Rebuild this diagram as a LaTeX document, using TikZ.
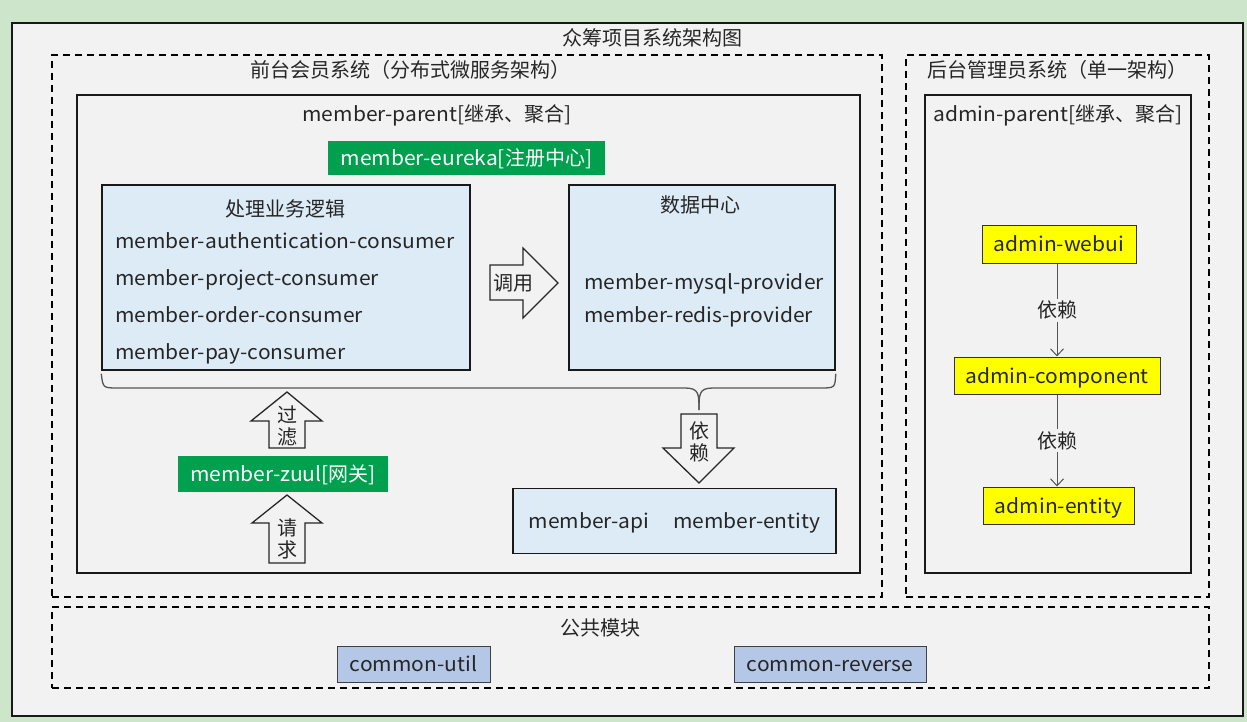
\documentclass[tikz,border=0pt]{standalone}
\usepackage{fontspec}
\setmainfont{Noto Sans CJK SC}
% slightly wider setting for the Latin module names
\newfontfamily\latinfont{Noto Sans CJK SC}[FakeStretch=1.05]
\newcommand\lat[1]{{\latinfont #1}}
\usetikzlibrary{arrows.meta}

\definecolor{bggreen}{HTML}{CDE6CB}
\definecolor{panel}{HTML}{F2F2F2}
\definecolor{lightblue}{HTML}{DDEBF7}
\definecolor{modgreen}{HTML}{00A04F}
\definecolor{modyellow}{HTML}{FFFF00}
\definecolor{commonblue}{HTML}{B4C7E7}
\definecolor{linkgray}{HTML}{555555}

\tikzset{
  txt/.style={font=\fontsize{20}{24}\selectfont, inner sep=0pt, text=black!85,
    text height=15pt, text depth=0pt},
  frame/.style={draw=black!90, line width=2pt, fill=panel},
  dashbox/.style={draw=black, line width=1.8pt, dash pattern=on 7pt off 5pt},
  solidbox/.style={draw=black!90, line width=1.8pt},
  bluebox/.style={draw=black!90, line width=1.5pt, fill=lightblue},
  greentag/.style={fill=modgreen, txt, text=white},
  yellowtag/.style={draw=black!80, line width=1pt, fill=modyellow, txt},
  commontag/.style={draw=black!75, line width=1pt, fill=commonblue, txt},
  blockarrow/.style={draw=black!85, line width=1.3pt, fill=panel, line join=miter},
  vtext/.style={font=\fontsize{20}{22}\selectfont, inner sep=0pt, text=black!85, align=center},
  dep/.style={draw=linkgray, line width=1pt, -{Straight Barb[length=7pt,width=13pt]}},
  deplabel/.style={txt, fill=panel, inner sep=4pt},
}

\begin{document}
\begin{tikzpicture}[x=1pt,y=-1pt]
  % page background
  \fill[bggreen] (0,0) rectangle (1247,722);
  \useasboundingbox (0,0) rectangle (1247,722);

  % outer frame and the three grouping areas
  \node[frame, minimum width=1231pt, minimum height=693pt] (outer) at (627.5,369.5) {};
  \node[txt] (maintitle) at (652,38) {众筹项目系统架构图};

  \node[dashbox, minimum width=830pt, minimum height=542pt] (front) at (467,326) {};
  \node[txt] (fronttitle) at (410,70) {前台会员系统（分布式微服务架构）};

  \node[dashbox, minimum width=303pt, minimum height=542pt] (back) at (1057.5,326) {};
  \node[txt] (backtitle) at (1057,70) {后台管理员系统（单一架构）};

  \node[dashbox, minimum width=1157pt, minimum height=81pt] (common) at (630.5,647.5) {};
  \node[txt] (commontitle) at (600,628) {公共模块};

  % common modules
  \node[commontag, minimum width=153pt, minimum height=36pt] (util) at (413.5,664) {\lat{common-util}};
  \node[commontag, minimum width=192pt, minimum height=36pt] (reverse) at (830,664) {\lat{common-reverse}};

  % member side
  \node[solidbox, minimum width=783pt, minimum height=478pt] (mparent) at (468.5,334) {};
  \node[txt] (mparentlabel) at (437,114) {\lat{member-parent[}继承、聚合\lat{]}};

  \node[greentag, minimum width=277pt, minimum height=34pt] (eureka) at (466.5,158) {\lat{member-eureka[}注册中心\lat{]}};

  \node[bluebox, minimum width=368pt, minimum height=185pt] (logic) at (286,277.5) {};
  \node[txt] (logictitle) at (285,209) {处理业务逻辑};
  \node[txt, anchor=west] (c1) at (115,241) {\lat{member-authentication-consumer}};
  \node[txt, anchor=west] (c2) at (115,278) {\lat{member-project-consumer}};
  \node[txt, anchor=west] (c3) at (115,315) {\lat{member-order-consumer}};
  \node[txt, anchor=west] (c4) at (115,352) {\lat{member-pay-consumer}};

  \node[bluebox, minimum width=266pt, minimum height=185pt] (data) at (702,277.5) {};
  \node[txt] (datatitle) at (700,205) {数据中心};
  \node[txt, anchor=west] (p1) at (584,282) {\lat{member-mysql-provider}};
  \node[txt, anchor=west] (p2) at (584,315) {\lat{member-redis-provider}};

  \node[bluebox, txt, minimum width=323pt, minimum height=65pt] (api) at (674.5,521)
    {\lat{member-api\hspace{24pt}member-entity}};

  \node[greentag, minimum width=210pt, minimum height=36pt] (zuul) at (283,474) {\lat{member-zuul[}网关\lat{]}};

  % block arrow: call
  \draw[blockarrow] (490,265) -- (523,265) -- (523,248) -- (558,283) -- (523,318)
    -- (523,300) -- (490,300) -- cycle;
  \node[txt] (calltext) at (513,283) {调用};

  % block arrow: filter
  \draw[blockarrow] (269,448) -- (269,421) -- (251,421) -- (287,392) -- (322,421)
    -- (305,421) -- (305,448) -- cycle;
  \node[vtext] (filtertext) at (287,426) {过\\滤};

  % block arrow: request
  \draw[blockarrow] (269,563) -- (269,523) -- (252,523) -- (287,495) -- (322,523)
    -- (305,523) -- (305,563) -- cycle;
  \node[vtext] (requesttext) at (287,539) {请\\求};

  % block arrow: dependency
  \draw[blockarrow] (681,414) -- (717,414) -- (717,448) -- (734,448) -- (699,483)
    -- (663,448) -- (681,448) -- cycle;
  \node[vtext] (deptext) at (699,442) {依\\赖};

  % brace under the two service groups
  \coordinate (bl) at ([yshift=-3pt]logic.south west);
  \coordinate (br) at ([yshift=-3pt]data.south east);
  \coordinate (tip) at (699,410);
  \draw[linkgray, line width=1.3pt]
    (bl) .. controls (103,388) .. (118,388) -- (685,388)
    .. controls (699,388) and (699,394) .. (tip);
  \draw[linkgray, line width=1.3pt]
    (br) .. controls (835,388) .. (820,388) -- (713,388)
    .. controls (699,388) and (699,394) .. (tip);

  % admin side
  \node[solidbox, minimum width=266pt, minimum height=478pt] (aparent) at (1058,334) {};
  \node[txt] (aparentlabel) at (1058,114) {\lat{admin-parent[}继承、聚合\lat{]}};

  \node[yellowtag, minimum width=154pt, minimum height=38pt] (webui) at (1059,244) {\lat{admin-webui}};
  \node[yellowtag, minimum width=206pt, minimum height=37pt] (component) at (1057,375.5) {\lat{admin-component}};
  \node[yellowtag, minimum width=151pt, minimum height=37pt] (entity) at (1058.5,505.5) {\lat{admin-entity}};

  \draw[dep] (webui.south -| component.north) -- node[deplabel] {依赖} (component.north);
  \draw[dep] (component.south) -- node[deplabel] {依赖} (component.south |- entity.north);
\end{tikzpicture}
\end{document}
